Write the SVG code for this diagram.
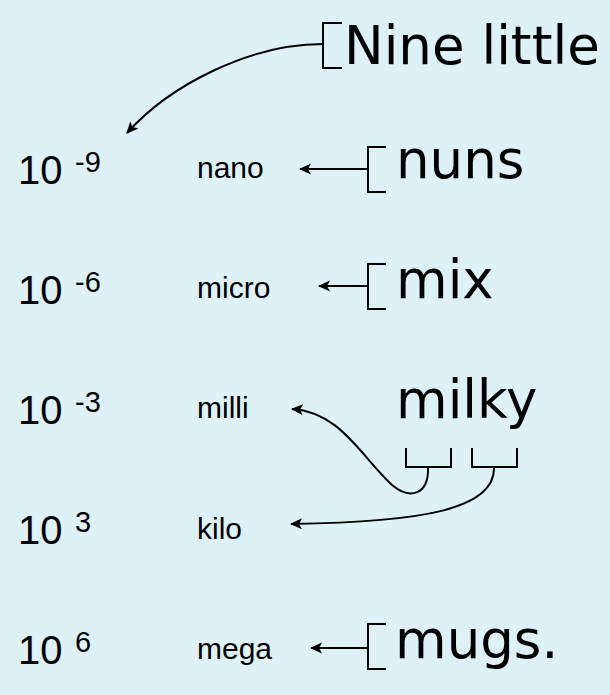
<svg xmlns="http://www.w3.org/2000/svg" width="610" height="695" viewBox="0 0 610 695">
<style>
.pw{font-family:"Liberation Sans",Arial,sans-serif;font-size:40px;fill:#000}
.sup{font-family:"Liberation Sans",Arial,sans-serif;font-size:29px;fill:#000}
.pre{font-family:"Liberation Sans",Arial,sans-serif;font-size:30px;fill:#000}
.big{font-family:"DejaVu Sans",sans-serif;font-size:53px;fill:#000}
.br{fill:none;stroke:#000;stroke-width:2}
.con{fill:none;stroke:#000;stroke-width:2}
</style>
<defs>
<marker id="ah" markerUnits="userSpaceOnUse" viewBox="0 0 12 12" refX="11" refY="6" markerWidth="12" markerHeight="12" orient="auto">
<path d="M0,0.5 L12,6 L0,11.5 L3,6 Z" fill="#000"/>
</marker>
</defs>
<rect x="0" y="0" width="610" height="695" fill="#ddf1f7"/>

<g id="pow-9"><text class="pw" x="18" y="184">10</text><text class="sup" x="75" y="172">-9</text></g>
<g id="pow-6"><text class="pw" x="18" y="304">10</text><text class="sup" x="75" y="292">-6</text></g>
<g id="pow-3"><text class="pw" x="18" y="424">10</text><text class="sup" x="75" y="412">-3</text></g>
<g id="pow3"><text class="pw" x="18" y="544">10</text><text class="sup" x="75" y="532">3</text></g>
<g id="pow6"><text class="pw" x="18" y="664">10</text><text class="sup" x="75" y="652">6</text></g>

<g id="nano"><text class="pre" x="197" y="178">nano</text></g>
<g id="micro"><text class="pre" x="197" y="298">micro</text></g>
<g id="milli"><text class="pre" x="197" y="418">milli</text></g>
<g id="kilo"><text class="pre" x="197" y="539">kilo</text></g>
<g id="mega"><text class="pre" x="197" y="659">mega</text></g>

<g id="w-nine"><path class="br" d="M342,23 H323 V68 H342"/><text class="big" x="344" y="64">Nine little</text></g>
<g id="w-nuns"><path class="br" d="M386,147 H368 V192 H386"/><text class="big" x="396" y="178">nuns</text></g>
<g id="w-mix"><path class="br" d="M386,264 H368 V309 H386"/><text class="big" x="396" y="298">mix</text></g>
<g id="w-milky"><text class="big" x="396" y="418">milky</text>
<path class="br" d="M406,448 V467 H451 V448"/>
<path class="br" d="M472,448 V467 H517 V448"/></g>
<g id="w-mugs"><path class="br" d="M386,624 H368 V669 H386"/><text class="big" x="395" y="658">mugs.</text></g>

<g id="connectors">
<path class="con" marker-end="url(#ah)" d="M323,44 C250,44 170,85 127,133"/>
<path class="con" marker-end="url(#ah)" d="M368,169 H300"/>
<path class="con" marker-end="url(#ah)" d="M368,286 H319"/>
<path class="con" marker-end="url(#ah)" d="M428,467 C429,495 410,500 392,485 C360,455 340,412 292,409"/>
<path class="con" marker-end="url(#ah)" d="M494,467 C496,510 420,522 291,524"/>
<path class="con" marker-end="url(#ah)" d="M368,648 H311"/>
</g>
</svg>
